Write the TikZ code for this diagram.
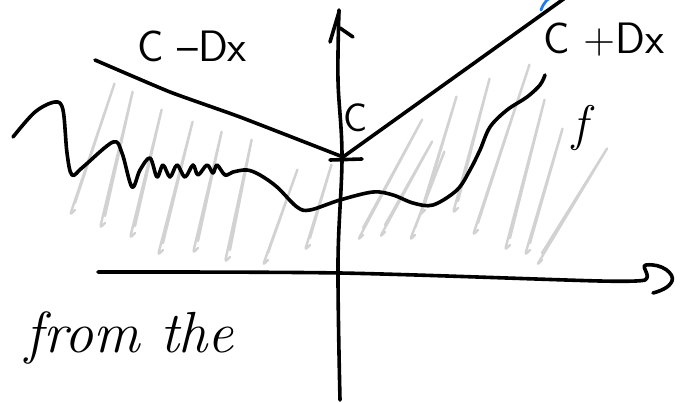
\documentclass[tikz,border=0pt]{standalone}
\usepackage{amsmath,amssymb}
\usetikzlibrary{arrows.meta, positioning, calc}
\definecolor{ink}{HTML}{000000}
\definecolor{hatchgray}{HTML}{D2D2D2}
\definecolor{penblue}{HTML}{1E7BF0}

\begin{document}
\begin{tikzpicture}[x=1pt, y=-1pt, line cap=round, line join=round,
  pen/.style={ink, line width=3.6pt},
  hatch/.style={hatchgray, line width=2.4pt, rounded corners=3pt},
  lbl/.style={font=\fontsize{44}{48}\selectfont\sffamily, text=ink, inner sep=0pt}]

% Canvas
\useasboundingbox (0,0) rectangle (683,402);
\fill[white] (0,0) rectangle (683,402);

% ================================================================
% HATCHING (region below the cone)
% ================================================================
\foreach \bx/\by/\tx/\ty in {70/215/115/82, 100/228/133/90, 130/238/162/108,
    158/255/193/120, 193/253/222/130, 225/262/252/138, 263/265/298/168,
    305/250/332/163, 358/240/423/118, 380/237/433/140, 410/240/445/150,
    420/215/457/95, 453/213/490/77, 473/235/530/63, 505/250/545/98,
    525/255/563/127, 537/265/608/147}
  \draw[hatch] (\bx+5,\by-12) -- (\tx,\ty) -- (\bx,\by) -- (\bx+5,\by-5);

% ================================================================
% AXES
% ================================================================
% horizontal axis with curled tip
\draw[pen] plot[smooth, tension=0.5] coordinates
  {(98,272) (340,273) (600,281) (645,280)}
  .. controls (652,276) and (640,266) .. (646,265)
  .. controls (662,263) and (675,274) .. (672,281)
  .. controls (669,288) and (660,291) .. (653,293);

% vertical axis
\draw[pen] plot[smooth, tension=0.6] coordinates
  {(340,400) (338,262) (342,157) (338,80) (339,10)};
\draw[pen] (339,12) -- (330,42);
\draw[pen] (340,28) -- (353,37);

% ================================================================
% CONE  C - Dx  /  C + Dx
% ================================================================
\draw[pen] plot[smooth, tension=0.3] coordinates
  {(95,60) (170,92) (240,117) (343,157)};
\draw[pen] (343,157) -- (565,-2);
\draw[pen] (330,160) -- (362,159);

% blue pen mark (cut at top edge)
\draw[penblue, line width=2.8pt] (541,10) .. controls (544,2) and (548,-2) .. (553,-3);

% ================================================================
% FUNCTION f
% ================================================================
\draw[pen] plot[smooth, tension=0.55] coordinates
  {(13,137) (35,112) (55,102) (63,110) (67,153) (72,175) (83,167)
   (113,142) (122,153) (132,187) (140,170) (150,158) (157,177) (163,165)
   (170,177) (177,165) (185,177) (193,165) (198,175) (207,165) (213,173)
   (217,165) (225,175) (233,172) (247,170) (260,175) (277,187) (297,207)
   (310,210) (340,200) (373,192) (393,195) (413,203) (433,205) (457,190)
   (470,170) (480,150) (490,127) (507,110) (527,97) (540,85) (545,75)};

% ================================================================
% LABELS
% ================================================================
\node[lbl] (lowline) at (192,46) {C --Dx};
\node[lbl] (highline) at (604,40) {C +Dx};
\node[lbl, font=\fontsize{40}{44}\selectfont\sffamily] (cval) at (356,118) {C};
\node[lbl, font=\fontsize{50}{54}\selectfont\itshape] (fname) at (580,128) {f};
\node[font=\fontsize{58}{62}\selectfont\itshape, text=ink, inner sep=0pt]
  (note) at (130,338) {from the};

\end{tikzpicture}
\end{document}
